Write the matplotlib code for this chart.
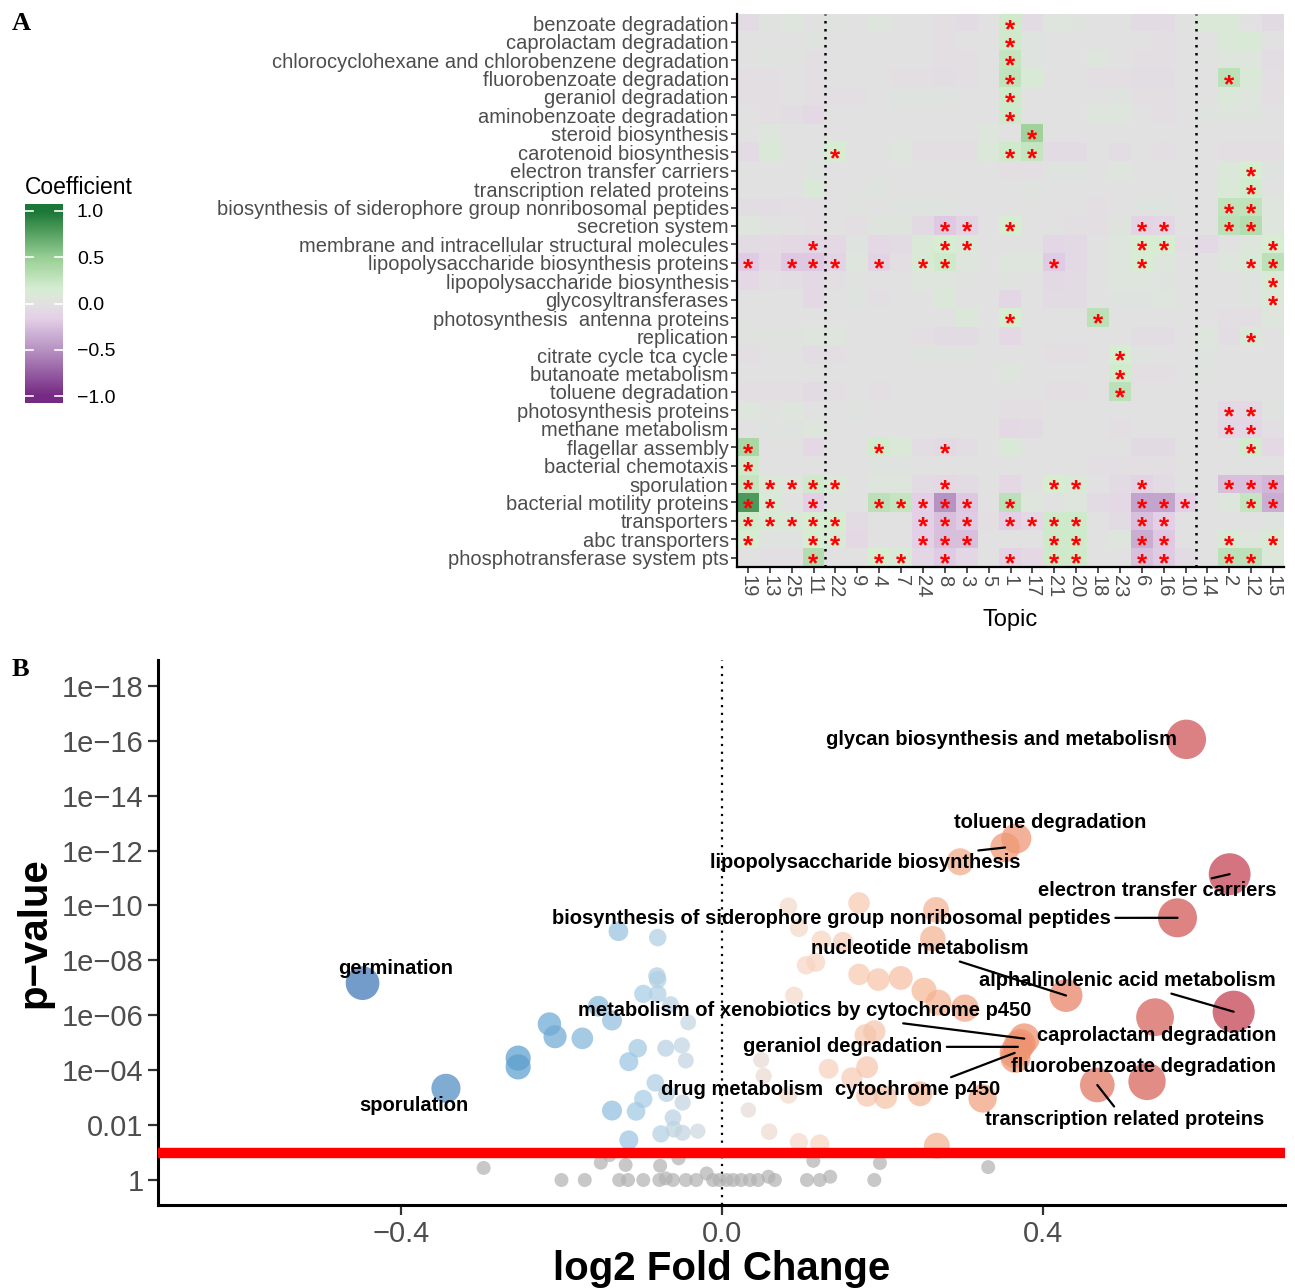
import numpy as np
import matplotlib
matplotlib.use("Agg")
import matplotlib.pyplot as plt
from matplotlib.colors import LinearSegmentedColormap, Normalize

plt.rcParams['font.family'] = ['Liberation Sans', 'DejaVu Sans']

# ---------------- panel A data ----------------
topics = ['19', '13', '25', '11', '22', '9', '4', '7', '24', '8', '3', '5', '1',
          '17', '21', '20', '18', '23', '6', '16', '10', '14', '2', '12', '15']

pathways = ['benzoate degradation', 'caprolactam degradation',
            'chlorocyclohexane and chlorobenzene degradation',
            'fluorobenzoate degradation', 'geraniol degradation',
            'aminobenzoate degradation', 'steroid biosynthesis',
            'carotenoid biosynthesis', 'electron transfer carriers',
            'transcription related proteins',
            'biosynthesis of siderophore group nonribosomal peptides',
            'secretion system', 'membrane and intracellular structural molecules',
            'lipopolysaccharide biosynthesis proteins',
            'lipopolysaccharide biosynthesis', 'glycosyltransferases',
            'photosynthesis  antenna proteins', 'replication',
            'citrate cycle tca cycle', 'butanoate metabolism',
            'toluene degradation', 'photosynthesis proteins',
            'methane metabolism', 'flagellar assembly', 'bacterial chemotaxis',
            'sporulation', 'bacterial motility proteins', 'transporters',
            'abc transporters', 'phosphotransferase system pts']

coef = [
    [-0.05, 0.02, 0.05, 0.0, 0.03, 0.0, 0.06, 0.0, 0.0, -0.03, -0.05, 0.0, 0.2, -0.05, 0.05, 0.04, 0.0, 0.0, -0.05, -0.05, 0.0, 0.1, 0.1, 0.0, -0.06],
    [0.0, 0.0, 0.0, 0.03, 0.0, 0.0, 0.0, 0.0, 0.0, -0.02, 0.0, 0.0, 0.2, 0.03, 0.0, 0.0, 0.0, 0.0, 0.0, -0.02, 0.0, 0.0, 0.1, 0.12, 0.0],
    [0.0, 0.03, 0.02, -0.03, 0.0, 0.0, 0.0, 0.0, 0.0, -0.03, -0.02, 0.0, 0.25, 0.03, 0.0, 0.0, 0.05, 0.0, -0.03, -0.03, 0.0, 0.02, 0.05, 0.05, -0.04],
    [-0.03, -0.02, 0.0, -0.03, 0.0, 0.0, 0.0, -0.02, -0.02, -0.04, -0.03, 0.0, 0.28, 0.12, 0.0, 0.0, -0.02, -0.02, -0.04, -0.04, 0.0, 0.0, 0.3, 0.1, -0.02],
    [-0.03, -0.03, 0.0, -0.03, -0.03, -0.02, 0.0, 0.03, 0.03, 0.03, 0.0, 0.0, 0.2, 0.0, 0.0, 0.0, 0.0, 0.03, -0.02, -0.02, 0.0, 0.0, 0.08, 0.06, -0.02],
    [0.0, -0.02, -0.04, -0.08, 0.0, 0.0, 0.0, 0.0, 0.0, 0.0, 0.0, 0.0, 0.2, 0.0, 0.0, 0.0, 0.06, 0.06, 0.0, -0.02, 0.0, 0.03, 0.04, 0.04, 0.0],
    [0.0, 0.05, 0.0, 0.0, 0.0, 0.0, 0.0, 0.0, 0.0, 0.0, 0.0, 0.05, 0.0, 0.45, 0.0, 0.0, 0.0, 0.0, 0.0, 0.0, 0.0, 0.0, 0.0, 0.0, 0.0],
    [-0.05, 0.1, 0.0, 0.0, 0.15, 0.0, 0.0, 0.06, -0.03, -0.03, -0.03, 0.08, 0.2, 0.25, -0.05, -0.05, 0.0, -0.04, 0.0, -0.03, 0.0, 0.0, -0.03, -0.02, -0.03],
    [0.0, 0.0, 0.0, 0.03, 0.0, 0.0, 0.0, 0.0, 0.0, 0.0, 0.0, 0.0, -0.03, -0.03, 0.03, 0.03, 0.0, 0.06, 0.0, 0.0, 0.0, 0.0, 0.08, 0.15, 0.03],
    [0.0, 0.0, 0.0, 0.1, 0.0, 0.0, 0.03, 0.0, 0.0, 0.0, 0.0, 0.0, 0.0, 0.03, 0.0, 0.0, 0.0, 0.0, 0.0, 0.0, 0.0, 0.0, 0.1, 0.18, 0.0],
    [-0.04, -0.04, -0.03, -0.03, 0.0, 0.02, 0.0, 0.03, 0.03, 0.03, 0.0, 0.0, 0.0, 0.0, 0.0, 0.0, -0.03, 0.0, 0.03, 0.03, 0.0, 0.0, 0.28, 0.28, 0.05],
    [0.05, 0.02, 0.0, -0.03, 0.0, -0.03, 0.04, 0.04, -0.06, -0.2, -0.12, 0.0, 0.15, 0.0, 0.0, -0.03, -0.03, 0.04, -0.12, -0.1, 0.0, 0.0, 0.3, 0.35, 0.05],
    [-0.05, -0.05, -0.08, -0.1, -0.08, 0.03, -0.08, -0.05, 0.1, 0.15, 0.1, 0.0, 0.0, 0.0, -0.1, -0.07, 0.0, 0.05, 0.15, 0.15, -0.02, -0.07, 0.0, 0.05, 0.15],
    [-0.18, -0.08, -0.2, -0.2, -0.12, 0.05, -0.12, -0.03, 0.12, 0.2, 0.05, 0.0, 0.05, 0.05, -0.18, -0.07, 0.0, 0.05, 0.15, 0.05, 0.0, 0.0, 0.05, 0.1, 0.3],
    [-0.08, -0.03, -0.04, -0.07, -0.03, 0.02, 0.0, 0.0, 0.05, 0.05, 0.02, 0.0, 0.03, 0.0, -0.07, -0.05, 0.0, 0.05, 0.05, 0.03, 0.0, 0.0, 0.0, 0.03, 0.12],
    [0.0, 0.0, 0.0, -0.08, 0.0, 0.03, -0.03, 0.0, 0.0, 0.08, 0.0, 0.0, -0.1, 0.0, -0.05, -0.05, 0.0, 0.03, 0.03, 0.05, 0.0, 0.0, 0.0, 0.03, 0.1],
    [0.0, 0.0, 0.0, 0.0, 0.0, 0.0, 0.0, 0.0, 0.0, 0.0, 0.08, 0.0, 0.15, 0.0, 0.0, 0.0, 0.3, 0.0, 0.0, 0.0, 0.0, 0.0, -0.03, -0.03, 0.06],
    [0.02, 0.02, 0.02, 0.06, 0.06, 0.0, 0.0, 0.0, -0.03, -0.05, -0.05, 0.0, -0.08, 0.0, 0.0, 0.0, 0.0, 0.0, -0.04, -0.04, 0.0, 0.05, -0.04, 0.1, 0.0],
    [-0.03, 0.0, 0.0, -0.04, -0.03, 0.0, 0.0, 0.0, 0.03, 0.03, 0.03, 0.0, 0.0, 0.0, -0.03, -0.03, 0.0, 0.15, 0.03, 0.0, 0.0, 0.03, 0.0, 0.0, 0.0],
    [0.0, 0.0, 0.0, 0.0, 0.0, 0.0, 0.0, 0.0, 0.0, 0.0, 0.0, 0.0, 0.05, 0.0, 0.0, 0.0, 0.0, 0.18, -0.03, -0.03, 0.0, 0.04, 0.0, 0.0, 0.0],
    [-0.03, -0.03, -0.03, -0.05, -0.03, 0.0, -0.03, 0.0, 0.0, 0.0, 0.0, 0.0, 0.0, 0.0, -0.03, -0.03, 0.0, 0.3, 0.0, 0.0, 0.0, 0.0, 0.0, 0.0, 0.0],
    [0.05, 0.02, 0.05, 0.0, 0.0, 0.03, 0.0, 0.0, 0.0, 0.0, 0.0, 0.0, -0.03, -0.03, 0.0, 0.0, 0.0, 0.0, 0.0, 0.0, 0.0, 0.0, -0.08, -0.08, 0.03],
    [0.0, 0.03, 0.03, 0.05, 0.0, 0.0, 0.0, 0.0, 0.0, 0.0, 0.0, 0.0, -0.08, -0.05, 0.0, 0.0, 0.0, -0.03, 0.0, 0.0, 0.0, 0.0, -0.1, -0.1, -0.03],
    [0.4, 0.0, 0.0, -0.08, 0.0, 0.0, 0.18, 0.1, -0.04, -0.06, -0.04, 0.0, 0.1, 0.0, 0.0, 0.0, 0.0, 0.0, -0.06, -0.06, 0.0, 0.0, 0.0, 0.18, -0.08],
    [0.2, 0.0, 0.0, 0.0, 0.0, 0.0, 0.03, 0.03, 0.0, 0.0, 0.0, 0.0, 0.0, 0.0, 0.0, 0.0, -0.03, -0.03, -0.03, -0.03, 0.0, 0.0, 0.0, 0.0, 0.0],
    [0.25, 0.1, 0.05, 0.2, 0.1, 0.0, 0.05, 0.05, -0.05, -0.08, -0.05, 0.0, -0.08, 0.0, 0.15, 0.1, 0.0, -0.05, -0.12, -0.05, 0.0, 0.0, -0.25, -0.25, -0.3],
    [0.8, 0.12, 0.0, -0.15, 0.03, 0.0, 0.3, 0.25, -0.15, -0.5, -0.2, 0.0, 0.3, 0.05, 0.0, 0.05, -0.05, -0.08, -0.4, -0.4, -0.15, 0.0, 0.05, 0.25, -0.35],
    [0.18, 0.12, 0.1, 0.15, 0.15, -0.05, 0.0, 0.0, -0.15, -0.25, -0.18, -0.03, -0.15, -0.08, 0.2, 0.2, 0.0, -0.05, -0.25, -0.15, 0.0, 0.0, 0.0, 0.0, 0.03],
    [0.15, 0.03, 0.03, 0.15, 0.12, -0.08, 0.0, 0.0, -0.15, -0.25, -0.25, 0.0, 0.0, 0.0, 0.2, 0.2, 0.0, 0.06, -0.35, -0.2, 0.0, 0.0, 0.12, 0.05, 0.12],
    [0.0, -0.03, -0.03, 0.35, 0.0, 0.0, 0.15, 0.12, -0.1, -0.18, -0.1, 0.0, -0.12, -0.08, 0.2, 0.2, 0.0, 0.0, -0.25, -0.18, -0.05, 0.0, 0.3, 0.3, 0.08],
]

# significant cells: topic labels per pathway row
signif = [
    ['1'], ['1'], ['1'], ['1', '2'], ['1'], ['1'], ['17'], ['22', '1', '17'],
    ['12'], ['12'], ['2', '12'],
    ['8', '3', '1', '6', '16', '2', '12'],
    ['11', '8', '3', '6', '16', '15'],
    ['19', '25', '11', '22', '4', '24', '8', '21', '6', '12', '15'],
    ['15'], ['15'], ['1', '18'], ['12'], ['23'], ['23'], ['23'],
    ['2', '12'], ['2', '12'], ['19', '4', '8', '12'], ['19'],
    ['19', '13', '25', '11', '22', '8', '21', '20', '6', '2', '12', '15'],
    ['19', '13', '11', '4', '7', '24', '8', '3', '1', '6', '16', '10', '12', '15'],
    ['19', '13', '25', '11', '22', '24', '8', '3', '1', '17', '21', '20', '6', '16'],
    ['19', '11', '22', '24', '8', '3', '21', '20', '6', '16', '2', '15'],
    ['11', '4', '7', '8', '1', '21', '20', '6', '16', '2', '12'],
]

# group separators drawn after these topics
split_after = ['11', '10']

# ---------------- panel B data ----------------
log2fc = [-0.448, -0.344, -0.254, -0.254, -0.215, -0.208, -0.174, -0.154, -0.137, -0.129,
          -0.080, -0.081, -0.080, -0.098, -0.080, -0.064, -0.042, -0.105, -0.116, -0.070,
          -0.050, -0.045, -0.083, -0.069, -0.098, -0.137, -0.107, -0.049, -0.061, -0.076,
          -0.060, -0.049, -0.030, -0.116,
          0.579, 0.633, 0.568, 0.638, 0.540, 0.530, 0.468, 0.429, 0.367, 0.353,
          0.297, 0.171, 0.267, 0.263, 0.171, 0.195, 0.223, 0.252, 0.270, 0.303,
          0.377, 0.372, 0.369, 0.366, 0.365, 0.325, 0.247, 0.181, 0.204, 0.162,
          0.181, 0.133, 0.179, 0.190, 0.268, 0.096, 0.122, 0.083, 0.096, 0.124,
          0.151, 0.105, 0.117, 0.090, 0.049, 0.052, 0.083, 0.033, 0.059,
          -0.297, -0.200, -0.171, -0.151, -0.140, -0.128, -0.120, -0.117, -0.098, -0.077,
          -0.078, -0.070, -0.061, -0.054, -0.045, -0.032, -0.019, -0.011, -0.003, 0.006,
          0.014, 0.024, 0.035, 0.045, 0.058, 0.066, 0.106, 0.114, 0.122, 0.135,
          0.197, 0.190, 0.332]
neg_log10_p = [7.17, 3.34, 4.44, 4.12, 5.68, 5.22, 5.16, 6.33, 5.81, 9.06,
               8.83, 7.43, 7.30, 6.78, 6.78, 6.39, 5.74, 4.80, 4.31, 4.80,
               4.90, 4.35, 3.54, 3.15, 2.95, 2.53, 2.50, 2.82, 2.27, 1.68,
               1.85, 1.72, 1.78, 1.46,
               16.05, 11.14, 9.55, 6.13, 5.93, 3.59, 3.46, 6.72, 12.44, 12.11,
               11.59, 10.09, 9.84, 8.79, 7.49, 7.30, 7.36, 6.91, 6.46, 6.26,
               5.15, 4.95, 4.85, 4.45, 4.63, 2.97, 3.14, 3.07, 3.01, 3.72,
               4.11, 4.05, 5.28, 5.41, 1.25, 1.38, 1.31, 9.97, 9.18, 8.73,
               8.66, 7.82, 7.93, 6.72, 4.37, 3.79, 3.10, 2.55, 1.76,
               0.44, 0.0, 0.0, 0.63, 0.91, 0.0, 0.55, 0.0, 0.0, 0.52,
               0.0, 0.06, 0.0, 0.79, 0.0, 0.0, 0.24, 0.0, 0.0, 0.0,
               0.0, 0.0, 0.0, 0.0, 0.12, 0.0, 0.0, 0.70, 0.0, 0.12,
               0.62, 0.0, 0.47]

label_names = ['glycan biosynthesis and metabolism', 'toluene degradation',
               'lipopolysaccharide biosynthesis', 'electron transfer carriers',
               'biosynthesis of siderophore group nonribosomal peptides',
               'nucleotide metabolism', 'alphalinolenic acid metabolism',
               'metabolism of xenobiotics by cytochrome p450',
               'caprolactam degradation', 'geraniol degradation', 'cytochrome p450',
               'fluorobenzoate degradation', 'transcription related proteins',
               'drug metabolism', 'germination', 'sporulation']
label_fc = [0.579, 0.367, 0.353, 0.633, 0.568, 0.429, 0.638, 0.377, 0.540, 0.369,
            0.365, 0.530, 0.468, 0.033, -0.448, -0.344]
label_p = [16.05, 12.44, 12.11, 11.14, 9.55, 6.72, 6.13, 5.15, 5.93, 4.85,
           4.63, 3.59, 3.46, 2.55, 7.17, 3.34]
label_tx = [0.349, 0.409, 0.179, 0.543, 0.137, 0.247, 0.506, 0.103, 0.542, 0.151,
            0.244, 0.525, 0.502, 0.025, -0.407, -0.384]
label_ty = [16.03, 13.01, 11.55, 10.53, 9.54, 8.42, 7.25, 6.16, 5.28, 4.85,
            3.28, 4.15, 2.19, 3.28, 7.72, 2.73]
label_line = [False, False, True, True, True, True, True, True, False, True,
              True, False, True, False, False, False]

p_cut = 1.0   # -log10 threshold line

W, H = 1295, 1288
fig = plt.figure(figsize=(W / 100, H / 100), dpi=100)

# ---------------- panel A ----------------
heat_cmap = LinearSegmentedColormap.from_list('coef', [
    (0.0, '#762a83'), (0.25, '#b793c3'), (0.42, '#e4d0e7'), (0.5, '#e2e1e2'),
    (0.58, '#d6eed2'), (0.75, '#98cf94'), (1.0, '#1b7837')])

ax1 = fig.add_axes([737 / W, 1 - 567 / H, 547 / W, 553 / H])
mat = np.array(coef)
ax1.imshow(mat, cmap=heat_cmap, vmin=-1, vmax=1, aspect='auto',
           interpolation='nearest')
for i, row in enumerate(signif):
    for t in row:
        j = topics.index(t)
        ax1.text(j, i + 0.36, '*', color='red', ha='center', va='center',
                 fontsize=19, fontweight='bold')
for t in split_after:
    ax1.axvline(topics.index(t) + 0.5, color='black', ls=(0, (1, 2.2)), lw=1.8)

ax1.set_xticks(range(len(topics)))
ax1.set_xticklabels(topics, rotation=270, fontsize=14.5, color='#4d4d4d')
ax1.set_yticks(range(len(pathways)))
ax1.set_yticklabels(pathways, fontsize=14.5, color='#4d4d4d')
ax1.set_xlim(-0.5, len(topics) - 0.5)
ax1.set_ylim(len(pathways) - 0.5, -0.5)
ax1.tick_params(axis='both', length=4, width=1.2, color='#333333', pad=2)
for s in ['top', 'right']:
    ax1.spines[s].set_visible(False)
for s in ['left', 'bottom']:
    ax1.spines[s].set_linewidth(1.6)
ax1.set_xlabel('Topic', fontsize=17, labelpad=8)

# legend bar
cax = fig.add_axes([25 / W, 1 - 403 / H, 38 / W, 199 / H])
grad = np.linspace(-1.075, 1.075, 300).reshape(-1, 1)
cax.imshow(np.clip(grad, -1, 1), cmap=heat_cmap, vmin=-1, vmax=1, aspect='auto',
           origin='lower', extent=[0, 1, -1.075, 1.075])
for v in [-1, -0.5, 0, 0.5, 1]:
    cax.plot([0, 0.2], [v, v], color='white', lw=1.2)
    cax.plot([0.8, 1], [v, v], color='white', lw=1.2)
cax.set_xlim(0, 1)
cax.set_ylim(-1.075, 1.075)
cax.set_xticks([])
cax.yaxis.tick_right()
cax.set_yticks([-1, -0.5, 0, 0.5, 1])
cax.set_yticklabels(['\u22121.0', '\u22120.5', '0.0', '0.5', '1.0'], fontsize=14)
cax.tick_params(axis='y', length=0, pad=10)
for s in cax.spines.values():
    s.set_visible(False)
fig.text(25 / W, 1 - 188 / H, 'Coefficient', fontsize=16.5, va='center', ha='left')

fig.text(12 / W, 1 - 23 / H, 'A', fontsize=19, fontweight='bold',
         family='Liberation Serif', va='center')
fig.text(12 / W, 1 - 670 / H, 'B', fontsize=19, fontweight='bold',
         family='Liberation Serif', va='center')

# ---------------- panel B ----------------
fc_cmap = LinearSegmentedColormap.from_list('fc', [
    (0.0, '#2b5a9c'), (0.179, '#3f76b8'), (0.321, '#5d9fcf'), (0.429, '#a5cbe5'),
    (0.5, '#dedede'), (0.571, '#f7d9c8'), (0.679, '#f6b898'), (0.786, '#ec8a66'),
    (0.893, '#d35b55'), (1.0, '#b8284a')])
fc_norm = Normalize(-0.7, 0.7)

ax2 = fig.add_axes([158 / W, 1 - 1205 / H, 1127 / W, 545 / H])
fc = np.array(log2fc)
yp = np.array(neg_log10_p)
sig = yp > p_cut
radius = np.where(sig, 7 + 22 * np.abs(fc), 7)
sizes = (2 * radius * 0.72) ** 2
colors = [fc_cmap(fc_norm(f)) if s else (0.70, 0.70, 0.70, 1) for f, s in zip(fc, sig)]
ax2.scatter(fc, yp, s=sizes, c=colors, alpha=0.72, linewidths=0, zorder=3)

ax2.axhline(p_cut, color='#ff0000', lw=7.5, zorder=4)
ax2.axvline(0, color='black', ls=(0, (1, 2.5)), lw=1.6, zorder=2)

for name, px, py, tx, ty, ln in zip(label_names, label_fc, label_p, label_tx,
                                    label_ty, label_line):
    if ln:
        ax2.annotate(name, xy=(px, py), xytext=(tx, ty), ha='center', va='center',
                     fontsize=14.5, fontweight='bold', zorder=6,
                     arrowprops=dict(arrowstyle='-', color='black', lw=1.6,
                                     shrinkA=1, shrinkB=0))
    else:
        ax2.text(tx, ty, name, ha='center', va='center', fontsize=14.5,
                 fontweight='bold', zorder=6)

ax2.set_xlim(-0.703, 0.702)
ax2.set_ylim(-0.91, 18.94)
ax2.set_xticks([-0.4, 0.0, 0.4])
ax2.set_xticklabels(['\u22120.4', '0.0', '0.4'], fontsize=21, color='#4d4d4d')
yt = list(range(0, 19, 2))
ylabs = ['1', '0.01'] + ['1e\u2212%02d' % k for k in yt[2:]]
ax2.set_yticks(yt)
ax2.set_yticklabels(ylabs, fontsize=21, color='#4d4d4d')
ax2.tick_params(axis='both', length=7, width=1.6, color='#333333')
for s in ['top', 'right']:
    ax2.spines[s].set_visible(False)
for s in ['left', 'bottom']:
    ax2.spines[s].set_linewidth(2.2)
ax2.set_xlabel('log2 Fold Change', fontsize=29, fontweight='bold', labelpad=2)
ax2.set_ylabel('p\u2212value', fontsize=29, fontweight='bold', labelpad=6)

fig.savefig('out.png', dpi=100)
